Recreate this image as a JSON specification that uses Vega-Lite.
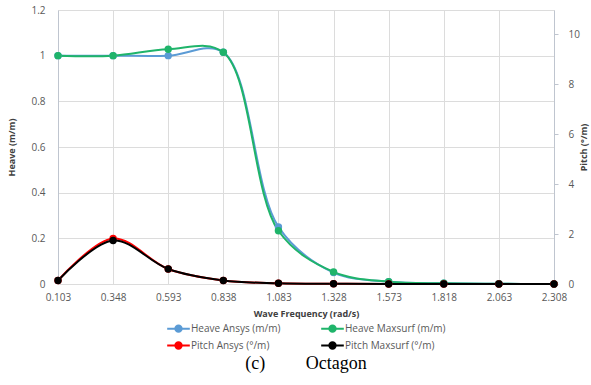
{
  "$schema": "https://vega.github.io/schema/vega-lite/v6.json",
  "width": 496,
  "height": 274,
  "autosize": "none",
  "padding": {"left": 58, "top": 10, "right": 37, "bottom": 101},
  "background": "white",
  "title": {"text": "(c)\u00a0\u00a0\u00a0\u00a0\u00a0\u00a0\u00a0\u00a0\u00a0Octagon", "orient": "bottom", "font": "Liberation Serif", "fontSize": 18, "fontWeight": "normal", "color": "black", "offset": 2},
  "config": {
    "view": {"stroke": null},
    "axis": {"labelFont": "Open Sans", "labelColor": "#595959", "labelFontSize": 10, "titleFont": "Open Sans", "titleColor": "#404040", "titleFontSize": 9, "titleFontWeight": "bold", "gridColor": "#dcdcdc", "domainColor": "#bfc5cf", "tickColor": "#bfc5cf", "labelFlush": false, "labelOverlap": false},
    "legend": {"labelFont": "Open Sans", "labelColor": "#595959", "labelFontSize": 10}
  },
  "data": {"values": [
    {"f": 0.103, "s": "Heave Ansys (m/m)", "v": 1.0},
    {"f": 0.348, "s": "Heave Ansys (m/m)", "v": 1.0},
    {"f": 0.593, "s": "Heave Ansys (m/m)", "v": 1.0},
    {"f": 0.838, "s": "Heave Ansys (m/m)", "v": 1.015},
    {"f": 1.083, "s": "Heave Ansys (m/m)", "v": 0.25},
    {"f": 1.328, "s": "Heave Ansys (m/m)", "v": 0.05},
    {"f": 1.573, "s": "Heave Ansys (m/m)", "v": 0.01},
    {"f": 1.818, "s": "Heave Ansys (m/m)", "v": 0.003},
    {"f": 2.063, "s": "Heave Ansys (m/m)", "v": 0.001},
    {"f": 2.308, "s": "Heave Ansys (m/m)", "v": 0.0},
    {"f": 0.103, "s": "Heave Maxsurf (m/m)", "v": 1.0},
    {"f": 0.348, "s": "Heave Maxsurf (m/m)", "v": 1.0},
    {"f": 0.593, "s": "Heave Maxsurf (m/m)", "v": 1.028},
    {"f": 0.838, "s": "Heave Maxsurf (m/m)", "v": 1.015},
    {"f": 1.083, "s": "Heave Maxsurf (m/m)", "v": 0.233},
    {"f": 1.328, "s": "Heave Maxsurf (m/m)", "v": 0.053},
    {"f": 1.573, "s": "Heave Maxsurf (m/m)", "v": 0.01},
    {"f": 1.818, "s": "Heave Maxsurf (m/m)", "v": 0.003},
    {"f": 2.063, "s": "Heave Maxsurf (m/m)", "v": 0.001},
    {"f": 2.308, "s": "Heave Maxsurf (m/m)", "v": 0.0},
    {"f": 0.103, "s": "Pitch Ansys (°/m)", "v": 0.14},
    {"f": 0.348, "s": "Pitch Ansys (°/m)", "v": 1.82},
    {"f": 0.593, "s": "Pitch Ansys (°/m)", "v": 0.6},
    {"f": 0.838, "s": "Pitch Ansys (°/m)", "v": 0.14},
    {"f": 1.083, "s": "Pitch Ansys (°/m)", "v": 0.03},
    {"f": 1.328, "s": "Pitch Ansys (°/m)", "v": 0.01},
    {"f": 1.573, "s": "Pitch Ansys (°/m)", "v": 0.0},
    {"f": 1.818, "s": "Pitch Ansys (°/m)", "v": 0.0},
    {"f": 2.063, "s": "Pitch Ansys (°/m)", "v": 0.0},
    {"f": 2.308, "s": "Pitch Ansys (°/m)", "v": 0.0},
    {"f": 0.103, "s": "Pitch Maxsurf (°/m)", "v": 0.14},
    {"f": 0.348, "s": "Pitch Maxsurf (°/m)", "v": 1.74},
    {"f": 0.593, "s": "Pitch Maxsurf (°/m)", "v": 0.6},
    {"f": 0.838, "s": "Pitch Maxsurf (°/m)", "v": 0.14},
    {"f": 1.083, "s": "Pitch Maxsurf (°/m)", "v": 0.03},
    {"f": 1.328, "s": "Pitch Maxsurf (°/m)", "v": 0.01},
    {"f": 1.573, "s": "Pitch Maxsurf (°/m)", "v": 0.0},
    {"f": 1.818, "s": "Pitch Maxsurf (°/m)", "v": 0.0},
    {"f": 2.063, "s": "Pitch Maxsurf (°/m)", "v": 0.0},
    {"f": 2.308, "s": "Pitch Maxsurf (°/m)", "v": 0.0}
  ]},
  "encoding": {
    "x": {"field": "f", "type": "quantitative", "scale": {"domain": [0.103, 2.308], "nice": false, "zero": false},
      "axis": {"title": "Wave Frequency (rad/s)", "values": [0.103, 0.348, 0.593, 0.838, 1.083, 1.328, 1.573, 1.818, 2.063, 2.308], "format": ".3f", "ticks": false, "domain": false, "labelPadding": 8, "titlePadding": 7}},
    "color": {"field": "s", "type": "nominal",
      "scale": {"domain": ["Heave Ansys (m/m)", "Pitch Ansys (°/m)", "Heave Maxsurf (m/m)", "Pitch Maxsurf (°/m)"], "range": ["#5b9bd5", "#ff0000", "#1fb46a", "#000000"]},
      "legend": {"title": null, "orient": "none", "legendX": 112, "legendY": 310, "columns": 2, "columnPadding": 36, "rowPadding": 1, "symbolType": "M -1.6 0 L 1.6 0 M 0.45 0 A 0.45 0.45 0 1 1 -0.45 0 A 0.45 0.45 0 1 1 0.45 0", "symbolSize": 200, "symbolStrokeWidth": 2}}
  },
  "layer": [
    {
      "transform": [{"filter": "indexof(datum.s, 'Heave') == 0"}],
      "mark": {"type": "line", "interpolate": "catmull-rom", "strokeWidth": 2, "point": {"filled": true, "size": 55}},
      "encoding": {
        "y": {"field": "v", "type": "quantitative", "scale": {"domain": [0, 1.2]},
          "axis": {"title": "Heave (m/m)", "values": [0, 0.2, 0.4, 0.6, 0.8, 1, 1.2], "format": "~g", "ticks": false, "labelPadding": 13, "titlePadding": 14}}
      }
    },
    {
      "transform": [{"filter": "indexof(datum.s, 'Pitch') == 0"}],
      "mark": {"type": "line", "interpolate": "catmull-rom", "strokeWidth": 2, "point": {"filled": true, "size": 55}},
      "encoding": {
        "y": {"field": "v", "type": "quantitative", "scale": {"domain": [0, 10.96], "nice": false},
          "axis": {"title": "Pitch (°/m)", "orient": "right", "values": [0, 2, 4, 6, 8, 10], "grid": false, "tickSize": 4, "labelPadding": 10, "titlePadding": 9, "titleAngle": 270}}
      }
    }
  ],
  "resolve": {"scale": {"y": "independent"}}
}
